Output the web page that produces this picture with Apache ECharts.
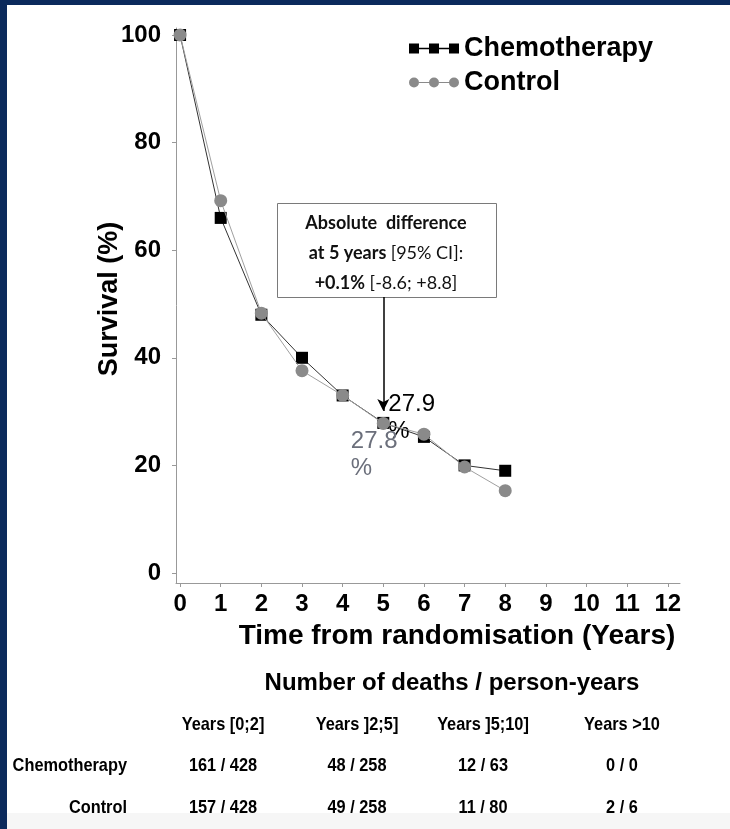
<!DOCTYPE html>
<html>
<head>
<meta charset="utf-8">
<script src="https://cdn.jsdelivr.net/npm/echarts@6/dist/echarts.min.js"></script>
<style>
  html, body { margin: 0; padding: 0; background: #fff; }
  #chart { width: 730px; height: 829px; }
</style>
</head>
<body>
<div id="chart"></div>
<script>
// Overall survival by arm, yearly estimates (%)
var years = [0, 1, 2, 3, 4, 5, 6, 7, 8];
var chemoSurvival = [100, 66.0, 48.0, 40.0, 33.0, 27.9, 25.3, 20.0, 19.0];
var controlSurvival = [100, 69.2, 48.3, 37.6, 33.0, 27.8, 25.8, 19.7, 15.3];
var xTicks = [0, 1, 2, 3, 4, 5, 6, 7, 8, 9, 10, 11, 12];
var yTicks = [0, 20, 40, 60, 80, 100];
var highlightYear = 5;

// Deaths / person-years table
var periods = ['Years [0;2]', 'Years ]2;5]', 'Years ]5;10]', 'Years >10'];
var armNames = ['Chemotherapy', 'Control'];
var chemoDeaths = [161, 48, 12, 0];
var chemoPersonYears = [428, 258, 63, 0];
var controlDeaths = [157, 49, 11, 2];
var controlPersonYears = [428, 258, 80, 6];

var FONT = "'Liberation Sans', Arial, sans-serif";
var NOTE_FONT = "Lato, 'Open Sans', sans-serif";
var NAVY = '#0b2a5c';

function buildSeriesData(values, labelCfg) {
  return years.map(function (yr, i) {
    var item = { value: [yr, values[i]] };
    if (yr === highlightYear) {
      item.label = Object.assign({ show: true }, labelCfg);
    }
    return item;
  });
}

var chemoData = buildSeriesData(chemoSurvival, {
  position: [11, -26],
  align: 'left',
  verticalAlign: 'top',
  color: '#000',
  fontFamily: FONT,
  fontSize: 24,
  lineHeight: 27,
  formatter: function (p) { return p.value[1] + '\n%'; }
});
var controlData = buildSeriesData(controlSurvival, {
  position: [-26, 11],
  align: 'left',
  verticalAlign: 'top',
  color: '#6b6f7b',
  fontFamily: FONT,
  fontSize: 24,
  lineHeight: 27,
  formatter: function (p) { return p.value[1] + '\n%'; }
});

// Three linked markers used as legend keys
var squaresIcon = 'path://M0,0H10V10H0Z M20,0H30V10H20Z M40,0H50V10H40Z M10,4.2H20V5.8H10Z M30,4.2H40V5.8H30Z';
var circlesIcon = 'path://M0,5A5,5 0 1,0 10,5A5,5 0 1,0 0,5Z M20,5A5,5 0 1,0 30,5A5,5 0 1,0 20,5Z M40,5A5,5 0 1,0 50,5A5,5 0 1,0 40,5Z M10,4.4H20V5.6H10Z M30,4.4H40V5.6H30Z';

// Table text elements (slightly condensed bold type)
var colX = [223, 357, 483, 622];
var SQUEEZE = 0.86;
function tableText(str, x, y, align, size) {
  return {
    type: 'text', x: x, y: y, scaleX: SQUEEZE, z: 5,
    style: { text: str, x: 0, y: 0, align: align, verticalAlign: 'middle',
             font: 'bold ' + size + 'px ' + FONT, fill: '#000' }
  };
}
var tableEls = [];
tableEls.push({
  type: 'text', x: 452, y: 683, z: 5,
  style: { text: 'Number of deaths / person-years', x: 0, y: 0, align: 'center', verticalAlign: 'middle',
           font: 'bold 24px ' + FONT, fill: '#000' }
});
periods.forEach(function (p, i) {
  tableEls.push(tableText(p, colX[i], 725, 'center', 19));
});
[[chemoDeaths, chemoPersonYears], [controlDeaths, controlPersonYears]].forEach(function (row, r) {
  var y = r === 0 ? 766 : 808;
  tableEls.push(tableText(armNames[r], 127, y, 'right', 19));
  row[0].forEach(function (d, i) {
    tableEls.push(tableText(d + ' / ' + row[1][i], colX[i], y, 'center', 19));
  });
});

var chart = echarts.init(document.getElementById('chart'), null, { renderer: 'canvas' });

var option = {
  backgroundColor: '#ffffff',
  animation: false,
  legend: {
    orient: 'vertical',
    left: 404,
    top: 30,
    itemGap: 7,
    itemWidth: 50,
    itemHeight: 10,
    textStyle: { fontFamily: FONT, fontWeight: 'bold', fontSize: 27, color: '#000' },
    data: [
      { name: 'Chemotherapy', icon: squaresIcon },
      { name: 'Control', icon: circlesIcon }
    ]
  },
  grid: { left: 176, top: 28, width: 504, height: 555, containLabel: false },
  xAxis: {
    type: 'value',
    min: -0.1,
    max: 12.3,
    splitLine: { show: false },
    axisLine: { show: true, onZero: false, lineStyle: { color: '#999', width: 1 } },
    axisTick: { show: true, customValues: xTicks, length: 4, lineStyle: { color: '#999' } },
    axisLabel: { customValues: xTicks, margin: 9, fontFamily: FONT, fontWeight: 'bold', fontSize: 24, color: '#000' }
  },
  yAxis: {
    type: 'value',
    min: -1.86,
    max: 101.3,
    splitLine: { show: false },
    axisLine: { show: true, onZero: false, lineStyle: { color: '#999', width: 1 } },
    axisTick: { show: true, customValues: yTicks, length: 4, lineStyle: { color: '#999' } },
    axisLabel: { customValues: yTicks, margin: 15, fontFamily: FONT, fontWeight: 'bold', fontSize: 24, color: '#000' }
  },
  series: [
    {
      name: 'Chemotherapy',
      type: 'line',
      data: chemoData,
      symbol: 'rect',
      symbolSize: 12,
      color: '#000',
      lineStyle: { color: '#333', width: 1 },
      itemStyle: { color: '#000' },
      z: 2,
      markLine: {
        silent: true,
        symbol: ['none', 'arrow'],
        symbolSize: [9, 12],
        label: { show: false },
        lineStyle: { color: '#000', width: 1.5, type: 'solid' },
        data: [[{ coord: [highlightYear, 51.3] }, { coord: [highlightYear, 30.1] }]]
      }
    },
    {
      name: 'Control',
      type: 'line',
      data: controlData,
      symbol: 'circle',
      symbolSize: 13,
      color: '#8a8a8a',
      lineStyle: { color: '#a0a0a0', width: 1 },
      itemStyle: { color: '#8a8a8a' },
      z: 3
    }
  ],
  graphic: [
    { type: 'rect', shape: { x: 0, y: 0, width: 730, height: 5 }, style: { fill: NAVY }, z: 10 },
    { type: 'rect', shape: { x: 0, y: 0, width: 7, height: 829 }, style: { fill: NAVY }, z: 10 },
    { type: 'rect', shape: { x: 7, y: 813, width: 723, height: 16 }, style: { fill: '#f6f6f6' }, z: -1 },
    // axis titles
    { type: 'text', x: 457, y: 636, z: 5,
      style: { text: 'Time from randomisation (Years)', x: 0, y: 0, align: 'center', verticalAlign: 'middle',
               font: 'bold 28px ' + FONT, fill: '#000' } },
    { type: 'text', x: 110, y: 299, rotation: Math.PI / 2, z: 5,
      style: { text: 'Survival (%)', x: 0, y: 0, align: 'center', verticalAlign: 'middle',
               font: 'bold 27px ' + FONT, fill: '#000' } },
    // annotation box
    { type: 'rect', shape: { x: 277.5, y: 203.5, width: 219, height: 94 },
      style: { fill: '#fff', stroke: '#7a7a7a', lineWidth: 1 }, z: 5 },
    { type: 'text', x: 386, y: 253, z: 6,
      style: {
        text: '{b|Absolute  difference}\n{b|at 5 years }{n|[95% CI]:}\n{b|+0.1%}{n| [-8.6; +8.8]}',
        x: 0, y: 0, align: 'center', verticalAlign: 'middle', lineHeight: 30,
        rich: {
          b: { font: 'bold 18px ' + NOTE_FONT, fill: '#111', lineHeight: 30 },
          n: { font: '18px ' + NOTE_FONT, fill: '#111', lineHeight: 30 }
        }
      } }
  ].concat(tableEls)
};

chart.setOption(option);
</script>
</body>
</html>
